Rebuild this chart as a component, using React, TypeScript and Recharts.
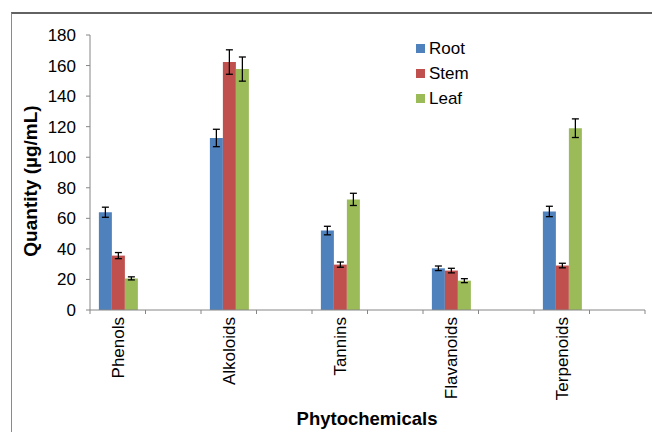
import { BarChart, Bar, XAxis, YAxis, ErrorBar, Legend } from 'recharts'

const categories = ['Phenols', 'Alkoloids', 'Tannins', 'Flavanoids', 'Terpenoids']
const seriesNames = ['Root', 'Stem', 'Leaf']
const root = [64, 112.6, 52, 27.3, 64.5]
const rootErr = [3.3, 5.7, 2.8, 1.5, 3.4]
const stem = [35.6, 162.3, 29.7, 25.8, 29.1]
const stemErr = [2, 8, 1.7, 1.5, 1.5]
const leaf = [20.7, 157.7, 72.4, 19.2, 119]
const leafErr = [1, 7.9, 4, 1.3, 6.1]
const yTicks = [0, 20, 40, 60, 80, 100, 120, 140, 160, 180]

// each category is followed by an empty slot, like the original sheet
const chartData = categories.flatMap((name, i) => [
  { name, root: root[i], rootErr: rootErr[i], stem: stem[i], stemErr: stemErr[i], leaf: leaf[i], leafErr: leafErr[i] },
  { name: '' }
])

const font = '"Liberation Sans", Arial, sans-serif'
const axisGray = '#868686'

// label in the middle of the slot, tick marks on the slot edges (Excel style)
function CatTick(props: any) {
  const { x, y, payload, width, visibleTicksCount, index } = props
  const half = width / visibleTicksCount / 2
  const axisY = y - 7
  return (
    <g>
      <line x1={x - half} x2={x - half} y1={axisY} y2={axisY + 4} stroke={axisGray} />
      {index === visibleTicksCount - 1 && (
        <line x1={x + half} x2={x + half} y1={axisY} y2={axisY + 4} stroke={axisGray} />
      )}
      {payload.value && (
        <text transform={`translate(${x},${y}) rotate(-90)`} textAnchor="end" dy="0.36em"
          fontSize={17} fill="#000" fontFamily={font}>
          {payload.value}
        </text>
      )}
    </g>
  )
}

function renderLegend(props: any) {
  const items = [...props.payload].sort((a: any, b: any) => seriesNames.indexOf(a.value) - seriesNames.indexOf(b.value))
  return (
    <div style={{ fontFamily: font }}>
      {items.map((e: any) => (
        <div key={e.value} style={{ display: 'flex', alignItems: 'center', height: 25 }}>
          <span style={{ width: 9, height: 9, background: e.color, marginRight: 4 }} />
          <span style={{ fontSize: 17, color: '#000' }}>{e.value}</span>
        </div>
      ))}
    </div>
  )
}

export default function App() {
  return (
    <div style={{ position: 'fixed', left: 0, top: 0, width: 652, height: 432, overflow: 'hidden', background: '#fff' }}>
      <div style={{ position: 'absolute', left: 11, top: 12, width: 700, height: 500, borderTop: '2px solid #626262', borderLeft: '1px solid #8a8a8a' }} />
      <div style={{ position: 'absolute', left: 0, top: 0 }}>
        <BarChart width={652} height={432} data={chartData} margin={{ top: 35, right: 7, bottom: 0, left: 0 }}
          barCategoryGap="16%" barGap={0} style={{ fontFamily: font }}>
          <XAxis dataKey="name" interval={0} tickLine={false} stroke={axisGray}
            tickSize={0} tickMargin={7} height={122} tick={<CatTick />} />
          <YAxis domain={[0, 180]} ticks={yTicks} width={90} tickSize={4} tickMargin={10}
            stroke={axisGray} tick={{ fontSize: 17, fill: '#000' }} />
          <Legend layout="vertical" align="center" verticalAlign="middle" content={renderLegend}
            wrapperStyle={{ top: 36, left: 416, width: 'auto', height: 'auto' }} />
          <Bar dataKey="root" name="Root" fill="#4F81BD" isAnimationActive={false}>
            <ErrorBar dataKey="rootErr" width={3.5} stroke="#000" strokeWidth={1.3} />
          </Bar>
          <Bar dataKey="stem" name="Stem" fill="#C0504D" isAnimationActive={false}>
            <ErrorBar dataKey="stemErr" width={3.5} stroke="#000" strokeWidth={1.3} />
          </Bar>
          <Bar dataKey="leaf" name="Leaf" fill="#9BBB59" isAnimationActive={false}>
            <ErrorBar dataKey="leafErr" width={3.5} stroke="#000" strokeWidth={1.3} />
          </Bar>
          <text x={30} y={181} transform="rotate(-90 30 181)" textAnchor="middle" dominantBaseline="central"
            fontSize={19} fontWeight="bold" fill="#000" fontFamily={font}>
            Quantity (µg/mL)
          </text>
          <text x={367} y={418} textAnchor="middle" dominantBaseline="central"
            fontSize={18.5} fontWeight="bold" fill="#000" fontFamily={font}>
            Phytochemicals
          </text>
        </BarChart>
      </div>
    </div>
  )
}
